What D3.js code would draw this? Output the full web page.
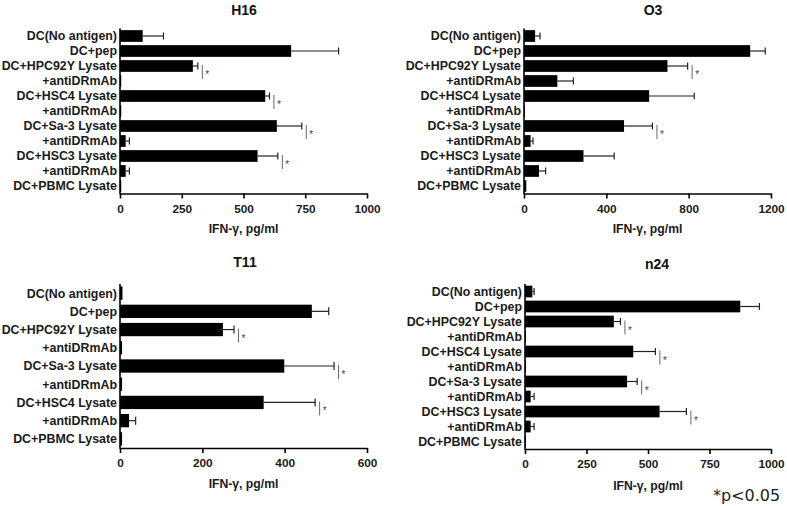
<!DOCTYPE html>
<html><head><meta charset="utf-8">
<script src="https://cdn.jsdelivr.net/npm/d3@7/dist/d3.min.js"></script>
<style>
body{margin:0;background:#fff}
text{font-family:"Liberation Sans",Arial,Helvetica,sans-serif}
</style>
</head><body>
<svg id="chart" width="787" height="506"></svg>
<script>
// ---------- DATA ----------
const categories11 = ["DC(No antigen)","DC+pep","DC+HPC92Y Lysate","+antiDRmAb","DC+HSC4 Lysate","+antiDRmAb","DC+Sa-3 Lysate","+antiDRmAb","DC+HSC3 Lysate","+antiDRmAb","DC+PBMC Lysate"];
const categoriesT11 = ["DC(No antigen)","DC+pep","DC+HPC92Y Lysate","+antiDRmAb","DC+Sa-3 Lysate","+antiDRmAb","DC+HSC4 Lysate","+antiDRmAb","DC+PBMC Lysate"];

const h16Values = [92, 693, 295, 5, 588, 5, 635, 23, 557, 23, 5];
const h16Errors = [84, 192, 20, 0, 17, 0, 101, 15, 82, 15, 0];
const h16Sig = [2, 4, 6, 8];
const h16Ticks = [0, 250, 500, 750, 1000];

const o3Values = [54, 1099, 697, 162, 608, 4, 486, 32, 289, 73, 11];
const o3Errors = [24, 73, 98, 78, 219, 0, 138, 12, 149, 32, 0];
const o3Sig = [2, 6];
const o3Ticks = [0, 400, 800, 1200];

const t11Values = [6, 466, 250, 5, 399, 5, 349, 22, 5];
const t11Errors = [0, 41, 27, 0, 121, 0, 125, 16, 0];
const t11Sig = [2, 4, 6];
const t11Ticks = [0, 200, 400, 600];

const n24Values = [30, 875, 361, 4, 440, 4, 415, 23, 547, 23, 4];
const n24Errors = [7, 78, 27, 0, 90, 0, 41, 14, 109, 14, 0];
const n24Sig = [2, 4, 6, 8];
const n24Ticks = [0, 250, 500, 750, 1000];

const axisTitle = "IFN-\u03B3, pg/ml";
const footnote = "*p<0.05";

// ---------- LAYOUT ----------
const panels = [
  {title:"H16", cats:categories11, values:h16Values, errors:h16Errors, sig:h16Sig, ticks:h16Ticks,
   x0:120, x1:367, y0:28.5, y1:193.5, pad:0.22, tx:244, ty:15, axY:232.5},
  {title:"O3", cats:categories11, values:o3Values, errors:o3Errors, sig:o3Sig, ticks:o3Ticks,
   x0:524, x1:771, y0:28.5, y1:193.5, pad:0.22, tx:653, ty:15, axY:232.5},
  {title:"T11", cats:categoriesT11, values:t11Values, errors:t11Errors, sig:t11Sig, ticks:t11Ticks,
   x0:120, x1:367, y0:284, y1:448, pad:0.27, tx:245, ty:267, axY:488},
  {title:"n24", cats:categories11, values:n24Values, errors:n24Errors, sig:n24Sig, ticks:n24Ticks,
   x0:525, x1:771, y0:284, y1:449, pad:0.22, tx:657, ty:269, axY:490}
];

const svg = d3.select("#chart");
svg.append("rect").attr("width",787).attr("height",506).attr("fill","#fff");

panels.forEach(p => {
  const g = svg.append("g");
  const idx = p.cats.map((c,i)=>i);
  const x = d3.scaleLinear().domain([0, d3.max(p.ticks)]).range([p.x0, p.x1]);
  const y = d3.scaleBand().domain(idx).range([p.y0, p.y1]).paddingInner(p.pad).paddingOuter(p.pad/2);
  const bw = y.bandwidth();

  // bars
  g.selectAll("rect.bar").data(idx).join("rect")
    .attr("x", x(0)).attr("y", i => y(i))
    .attr("width", i => x(p.values[i]) - x(0))
    .attr("height", bw).attr("fill", "#000");

  // error bars
  const eb = idx.filter(i => p.errors[i] > 0);
  const cy = i => y(i) + bw/2;
  g.selectAll("line.err").data(eb).join("line")
    .attr("x1", i => x(p.values[i])).attr("x2", i => x(p.values[i] + p.errors[i]))
    .attr("y1", cy).attr("y2", cy).attr("stroke", "#222").attr("stroke-width", 1.2);
  g.selectAll("line.cap").data(eb).join("line")
    .attr("x1", i => x(p.values[i] + p.errors[i])).attr("x2", i => x(p.values[i] + p.errors[i]))
    .attr("y1", i => cy(i) - bw*0.3).attr("y2", i => cy(i) + bw*0.3)
    .attr("stroke", "#222").attr("stroke-width", 1.2);

  // significance markers
  p.sig.forEach(i => {
    const sx = x(p.values[i] + p.errors[i]) + 4.5;
    g.append("line").attr("x1", sx).attr("x2", sx)
      .attr("y1", cy(i) - 1).attr("y2", cy(i) + 13)
      .attr("stroke", "#666").attr("stroke-width", 1);
    g.append("text").attr("x", sx + 3).attr("y", cy(i) + 12)
      .attr("font-size", 10).attr("fill", "#444").text("*");
  });

  // x axis
  const axisY = p.y1;
  const xa = g.append("g").attr("transform", `translate(0,${axisY})`)
    .call(d3.axisBottom(x).tickValues(p.ticks).tickSize(5).tickSizeOuter(0).tickPadding(6).tickFormat(d3.format("d")));
  xa.select(".domain").attr("stroke", "#000").attr("stroke-width", 1.6);
  xa.selectAll(".tick line").attr("stroke", "#000").attr("stroke-width", 1.6);
  xa.selectAll(".tick text").attr("font-size", 11.8).attr("font-weight", "bold").attr("fill", "#1a1a1a")
    .style("font-family", '"Liberation Sans",Arial,sans-serif');

  // y axis line + labels
  g.append("line").attr("x1", x(0)).attr("x2", x(0)).attr("y1", p.y0).attr("y2", axisY + 0.8)
    .attr("stroke", "#000").attr("stroke-width", 1.6);
  g.selectAll("text.cat").data(idx).join("text")
    .attr("x", x(0) - 3).attr("y", i => cy(i)).attr("dy", "0.36em")
    .attr("text-anchor", "end").attr("font-size", 12.4).attr("font-weight", "bold").attr("fill", "#1a1a1a")
    .text(i => p.cats[i]);

  // title
  g.append("text").attr("x", p.tx).attr("y", p.ty).attr("text-anchor", "middle")
    .attr("font-size", 14).attr("font-weight", "bold").attr("fill", "#111").text(p.title);

  // axis title
  g.append("text").attr("x", (p.x0 + p.x1)/2).attr("y", p.axY).attr("text-anchor", "middle")
    .attr("font-size", 12.2).attr("font-weight", "bold").attr("fill", "#1a1a1a").text(axisTitle);
});

svg.append("text").attr("x", 713).attr("y", 501).attr("font-size", 16)
  .style("font-family", '"DejaVu Sans",Verdana,sans-serif').attr("fill", "#222").text(footnote);
</script>
</body></html>
